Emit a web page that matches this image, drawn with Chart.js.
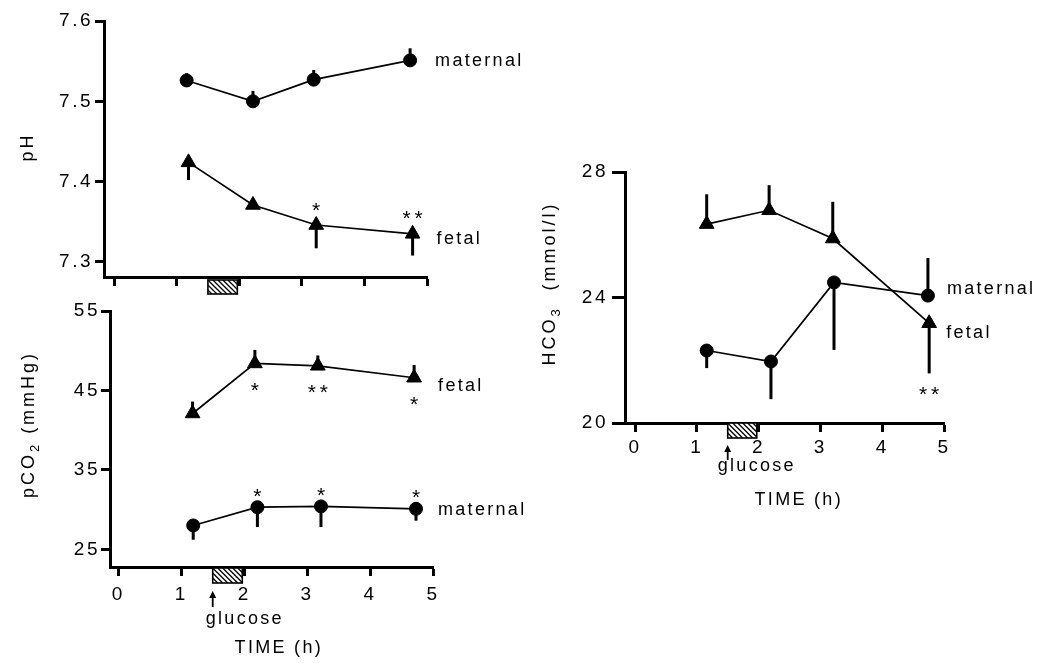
<!DOCTYPE html>
<html>
<head>
<meta charset="utf-8">
<script src="https://cdn.jsdelivr.net/npm/chart.js@4.4.1/dist/chart.umd.min.js"></script>
<style>
  html, body { margin: 0; padding: 0; background: #fff; }
  body { width: 1041px; height: 663px; position: relative; overflow: hidden; }
  canvas { position: absolute; }
</style>
</head>
<body>
<canvas id="phChart" width="540" height="300" style="left:0;top:0"></canvas>
<canvas id="pco2Chart" width="540" height="373" style="left:0;top:290px"></canvas>
<canvas id="hco3Chart" width="521" height="380" style="left:520px;top:140px"></canvas>
<script>
// valores (tempo em horas)
const timeTicks = [0, 1, 2, 3, 4, 5];
const glucoseTimes = [1.5, 1.97];

// pH
const phTicks = [7.3, 7.4, 7.5, 7.6];
const phMaternalTime = [1.16, 2.22, 3.19, 4.73];
const phMaternal = [7.526, 7.500, 7.527, 7.551];
const phMaternalErr = [0.009, 0.013, 0.012, 0.015];   // + barra para cima, - para baixo
const phFetalTime = [1.19, 2.22, 3.23, 4.77];
const phFetal = [7.424, 7.371, 7.346, 7.335];
const phFetalErr = [-0.022, -0.003, -0.029, -0.027];
const phFetalStars = ["", "", "*", "**"];

// pCO2
const pco2Ticks = [25, 35, 45, 55];
const pco2FetalTime = [1.18, 2.17, 3.17, 4.70];
const pco2Fetal = [42.1, 48.4, 48.1, 46.6];
const pco2FetalErr = [1.5, 1.7, 1.3, 1.6];
const pco2FetalStars = ["", "*", "**", "*"];
const pco2MaternalTime = [1.19, 2.21, 3.22, 4.73];
const pco2Maternal = [28.0, 30.3, 30.4, 30.1];
const pco2MaternalErr = [-1.8, -2.5, -2.6, -1.5];
const pco2MaternalStars = ["", "*", "*", "*"];

// HCO3
const hco3Ticks = [20, 24, 28];
const hco3FetalTime = [1.16, 2.17, 3.20, 4.76];
const hco3Fetal = [26.34, 26.78, 25.88, 23.18];
const hco3FetalErr = [0.95, 0.8, 1.17, -1.6];
const hco3FetalStars = ["", "", "", "**"];
const hco3MaternalTime = [1.16, 2.20, 3.22, 4.74];
const hco3Maternal = [22.31, 21.96, 24.48, 24.06];
const hco3MaternalErr = [-0.56, -1.2, -2.15, 1.2];

const FONT = "'Liberation Sans', Arial, Helvetica, sans-serif";
Chart.defaults.font.family = FONT;
Chart.defaults.color = '#000';

function textStyle(ctx, size, spacing, align) {
  ctx.letterSpacing = spacing + 'px';
  ctx.font = size + 'px ' + FONT;
  ctx.textAlign = align;
  ctx.textBaseline = 'alphabetic';
}

// plugin para barras de erro, asteriscos, rótulos e caixa da glicose
const extras = {
  id: 'extras',
  beforeDraw(chart) {
    chart.ctx.letterSpacing = '2.5px';
  },
  afterDatasetsDraw(chart) {
    const ctx = chart.ctx;
    const xs = chart.scales.x, ys = chart.scales.y;
    chart.data.datasets.forEach(ds => {
      ctx.save();
      ctx.strokeStyle = '#000';
      ctx.fillStyle = '#000';
      ctx.lineWidth = 3;
      ds.data.forEach((p, i) => {
        const px = xs.getPixelForValue(p.x);
        const py = ys.getPixelForValue(p.y);
        const e = ds.err ? ds.err[i] : 0;
        const pe = ys.getPixelForValue(p.y + e);
        if (e !== 0) {
          ctx.beginPath();
          ctx.moveTo(px, py);
          ctx.lineTo(px, pe);
          ctx.stroke();
        }
        const s = ds.stars ? ds.stars[i] : '';
        if (s) {
          let base = py;
          if ((e < 0 && ds.starDy > 0) || (e > 0 && ds.starDy < 0)) base = pe;
          const cy = base + ds.starDy;
          textStyle(ctx, 21, 0, 'center');
          const n = s.length;
          for (let k = 0; k < n; k++) {
            ctx.fillText('*', px + (k - (n - 1) / 2) * 12, cy + 11.5);
          }
        }
      });
      if (ds.label) {
        const last = ds.data[ds.data.length - 1];
        textStyle(ctx, 18, 2.3, 'left');
        ctx.fillText(ds.label, xs.getPixelForValue(last.x) + ds.labelOffset[0],
          ys.getPixelForValue(last.y) + ds.labelOffset[1]);
      }
      ctx.restore();
    });
  },
  afterDraw(chart, args, opts) {
    const ctx = chart.ctx;
    const xs = chart.scales.x;
    const axisY = chart.chartArea.bottom;
    ctx.save();
    // caixa hachurada da glicose
    const g = opts.glucose;
    const x1 = xs.getPixelForValue(glucoseTimes[0]);
    const x2 = xs.getPixelForValue(glucoseTimes[1]);
    const y1 = axisY + g.boxTop, y2 = axisY + g.boxBottom;
    ctx.fillStyle = '#fff';
    ctx.fillRect(x1, y1, x2 - x1, y2 - y1);
    ctx.save();
    ctx.beginPath();
    ctx.rect(x1, y1, x2 - x1, y2 - y1);
    ctx.clip();
    ctx.strokeStyle = '#000';
    ctx.lineWidth = 1.3;
    for (let k = -20; k < (x2 - x1) + 20; k += 5) {
      ctx.beginPath();
      ctx.moveTo(x1 + k, y1);
      ctx.lineTo(x1 + k + (y2 - y1), y2);
      ctx.stroke();
    }
    ctx.restore();
    ctx.strokeStyle = '#000';
    ctx.lineWidth = 1.6;
    ctx.strokeRect(x1, y1, x2 - x1, y2 - y1);
    ctx.fillStyle = '#000';
    if (g.arrowTip) {
      ctx.beginPath();
      ctx.moveTo(x1, axisY + g.arrowTip);
      ctx.lineTo(x1 - 3.5, axisY + g.arrowTip + 7);
      ctx.lineTo(x1 + 3.5, axisY + g.arrowTip + 7);
      ctx.closePath();
      ctx.fill();
      ctx.lineWidth = 1.8;
      ctx.beginPath();
      ctx.moveTo(x1, axisY + g.arrowTip + 5);
      ctx.lineTo(x1, axisY + g.arrowEnd);
      ctx.stroke();
      textStyle(ctx, 18, 2.3, 'left');
      ctx.fillText('glucose', x1 + g.textDx, axisY + g.textDy);
    }
    // título do eixo x
    if (opts.xTitle) {
      textStyle(ctx, 18, 2.3, 'center');
      ctx.fillText(opts.xTitle, xs.getPixelForValue(opts.xTitleAt), opts.xTitleY);
    }
    // título do eixo y (rodado, com índice)
    const parts = opts.yTitle;
    ctx.translate(opts.yTitleX, opts.yTitleY);
    ctx.rotate(-Math.PI / 2);
    let total = 0;
    parts.forEach(p => {
      textStyle(ctx, p.sub ? 13 : 18, 3, 'left');
      total += ctx.measureText(p.t).width;
    });
    let cx = -total / 2;
    parts.forEach(p => {
      textStyle(ctx, p.sub ? 13 : 18, 3, 'left');
      ctx.fillText(p.t, cx, p.sub ? 5 : 0);
      cx += ctx.measureText(p.t).width;
    });
    ctx.restore();
  }
};

function series(times, values, style) {
  return Object.assign({
    data: times.map((t, i) => ({ x: t, y: values[i] })),
    showLine: true,
    borderColor: '#000',
    borderWidth: 1.7,
    pointBackgroundColor: '#000',
    pointBorderColor: '#000',
    pointBorderWidth: 1,
    clip: false
  }, style);
}

function makeChart(id, cfg) {
  const canvas = document.getElementById(id);
  const a = cfg.area;
  return new Chart(canvas, {
    type: 'scatter',
    data: { datasets: cfg.datasets },
    options: {
      responsive: false,
      animation: false,
      devicePixelRatio: 1,
      layout: { padding: { left: 0, top: a.top, right: canvas.width - a.right, bottom: 0 } },
      plugins: { legend: { display: false }, tooltip: { enabled: false }, extras: cfg.extras },
      scales: {
        x: {
          type: 'linear', min: cfg.xMin, max: 5,
          afterFit(s) { s.height = canvas.height - a.bottom; },
          afterBuildTicks(s) { s.ticks = timeTicks.map(v => ({ value: v })); },
          border: { display: true, color: '#000', width: 3 },
          grid: { display: true, drawOnChartArea: false, drawTicks: true, tickLength: 9, tickWidth: 3, tickColor: '#000' },
          ticks: Object.assign({ color: '#000', font: { size: 19 }, maxRotation: 0 }, cfg.xTicks)
        },
        y: {
          type: 'linear', min: cfg.yMin, max: cfg.yMax,
          afterFit(s) { s.width = a.left; },
          afterBuildTicks(s) { s.ticks = cfg.yTicks.map(v => ({ value: v })); },
          border: { display: true, color: '#000', width: 3 },
          grid: { display: true, drawOnChartArea: false, drawTicks: true, tickLength: cfg.yTickLength, tickWidth: 3, tickColor: '#000' },
          ticks: Object.assign({ color: '#000', font: { size: 19 } }, cfg.yTickOpts)
        }
      }
    },
    plugins: [extras]
  });
}

// painel pH
makeChart('phChart', {
  area: { left: 104, top: 21, right: 427, bottom: 277 },
  xMin: -0.16, yMin: 7.2813, yMax: 7.6, yTicks: phTicks, yTickLength: 9,
  xTicks: { display: false },
  yTickOpts: { padding: 2, callback: v => v.toFixed(1) },
  datasets: [
    series(phMaternalTime, phMaternal, { pointStyle: 'circle', pointRadius: 6.5, err: phMaternalErr,
      label: 'maternal', labelOffset: [25, 6] }),
    series(phFetalTime, phFetal, { pointStyle: 'triangle', pointRadius: 8.5, err: phFetalErr,
      stars: phFetalStars, starDy: -20, label: 'fetal', labelOffset: [24, 10] })
  ],
  extras: {
    glucose: { boxTop: 3, boxBottom: 17 },
    yTitle: [{ t: 'pH' }], yTitleX: 33, yTitleY: 147
  }
});

// painel pCO2
makeChart('pco2Chart', {
  area: { left: 110, top: 21, right: 433, bottom: 277 },
  xMin: -0.132, yMin: 22.77, yMax: 55, yTicks: pco2Ticks, yTickLength: 9,
  xTicks: { padding: 7 },
  yTickOpts: { padding: 1 },
  datasets: [
    series(pco2FetalTime, pco2Fetal, { pointStyle: 'triangle', pointRadius: 8.5, err: pco2FetalErr,
      stars: pco2FetalStars, starDy: 22, label: 'fetal', labelOffset: [24, 13] }),
    series(pco2MaternalTime, pco2Maternal, { pointStyle: 'circle', pointRadius: 6.5, err: pco2MaternalErr,
      stars: pco2MaternalStars, starDy: -16, label: 'maternal', labelOffset: [22, 6] })
  ],
  extras: {
    glucose: { boxTop: 1, boxBottom: 16, arrowTip: 24, arrowEnd: 40, textDx: -7, textDy: 57 },
    xTitle: 'TIME (h)', xTitleAt: 2.55, xTitleY: 363,
    yTitle: [{ t: 'pCO' }, { t: '2', sub: true }, { t: ' (mmHg)' }], yTitleX: 34, yTitleY: 134.5
  }
});

// painel HCO3
makeChart('hco3Chart', {
  area: { left: 105, top: 32, right: 424, bottom: 283 },
  xMin: -0.162, yMin: 20, yMax: 28, yTicks: hco3Ticks, yTickLength: 13,
  xTicks: { padding: 4 },
  yTickOpts: { padding: 4 },
  datasets: [
    series(hco3FetalTime, hco3Fetal, { pointStyle: 'triangle', pointRadius: 8.5, err: hco3FetalErr,
      stars: hco3FetalStars, starDy: 16, label: 'fetal', labelOffset: [17, 15] }),
    series(hco3MaternalTime, hco3Maternal, { pointStyle: 'circle', pointRadius: 6.5, err: hco3MaternalErr,
      label: 'maternal', labelOffset: [19, -2] })
  ],
  extras: {
    glucose: { boxTop: 0, boxBottom: 15, arrowTip: 22, arrowEnd: 37, textDx: -10, textDy: 48 },
    xTitle: 'TIME (h)', xTitleAt: 2.65, xTitleY: 365,
    yTitle: [{ t: 'HCO' }, { t: '3', sub: true }, { t: '  (mmol/l)' }], yTitleX: 35, yTitleY: 143.5
  }
});
</script>
</body>
</html>
